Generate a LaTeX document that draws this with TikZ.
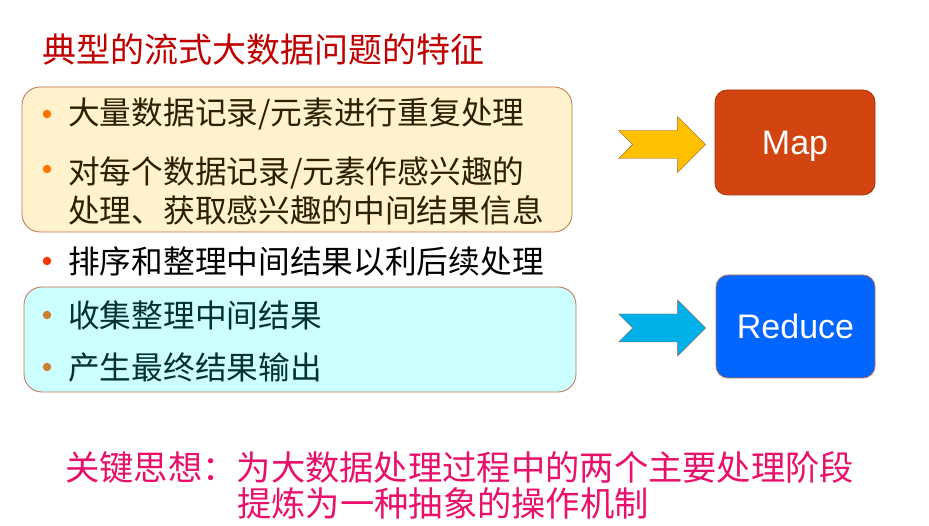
\documentclass[tikz,border=0pt]{standalone}
\usepackage{fontspec}
\setmainfont{Noto Sans CJK SC}
\newfontfamily\latinsans{Liberation Sans}
\usetikzlibrary{positioning}

\definecolor{titlered}{HTML}{C00000}
\definecolor{keypink}{HTML}{E8106A}
\definecolor{creamfill}{HTML}{FFF2CC}
\definecolor{cyanfill}{HTML}{CCFFFF}
\definecolor{boxline}{HTML}{C0704A}
\definecolor{mapfill}{HTML}{D24410}
\definecolor{reducefill}{HTML}{0066FF}
\definecolor{arrowyellow}{HTML}{FFC000}
\definecolor{arrowcyan}{HTML}{00B0E8}
\definecolor{olivetext}{HTML}{2B2100}
\definecolor{tealtext}{HTML}{003030}

\begin{document}
\begin{tikzpicture}[x=1pt, y=-1pt,
    heading/.style={anchor=west, inner sep=0pt, font=\fontsize{34}{40}\selectfont, text=titlered},
    group/.style={rectangle, draw=boxline, thick, rounded corners=18pt},
    item/.style={anchor=west, inner sep=0pt, align=left, font=\fontsize{31.7}{39}\selectfont},
    dot/.style={circle, inner sep=0pt, minimum size=8.5pt},
    stage/.style={rectangle, draw=boxline, thick, rounded corners=12pt, text=white, text depth=0pt, font=\latinsans\fontsize{34}{40}\selectfont},
    blockarrow/.style={draw=boxline!80!black, line join=miter},
    keyidea/.style={anchor=west, inner sep=0pt, font=\fontsize{34.3}{40}\selectfont, text=keypink}
]
\useasboundingbox (0,0) rectangle (929,526);

% Title
\node[heading] (title) at (42,50) {典型的流式大数据问题的特征};

% Map group - cream box
\node[group, fill=creamfill, minimum width=550pt, minimum height=145pt] (mapgroup) at (297,159.5) {};
\node[dot, fill=orange!90!red] (d1) at (47,114) {};
\node[item, text=olivetext] (t1) at (68,114) {大量数据记录/元素进行重复处理};
\node[dot, fill=orange!90!red] (d2) at (47,169) {};
\node[item, text=olivetext] (t2) at (68,191) {对每个数据记录/元素作感兴趣的\\处理、获取感兴趣的中间结果信息};

% Middle bullet
\node[dot, fill=red!60!orange] (d3) at (47,261) {};
\node[item] (t3) at (68,261) {排序和整理中间结果以利后续处理};

% Reduce group - cyan box
\node[group, fill=cyanfill, minimum width=552pt, minimum height=105pt] (reducegroup) at (300,339.5) {};
\node[dot, fill=brown!80!orange] (d4) at (47,315) {};
\node[item, text=tealtext] (t4) at (68,315.5) {收集整理中间结果};
\node[dot, fill=brown!80!orange] (d5) at (47,367) {};
\node[item, text=tealtext] (t5) at (68,367.5) {产生最终结果输出};

% Stages
\node[stage, fill=mapfill, draw=mapfill!80!black, minimum width=160pt, minimum height=105pt] (map) at (795,142.5) {Map};
\node[stage, fill=reducefill, minimum width=159pt, minimum height=103pt] (reduce) at (795.5,326.5) {Reduce};

% Block arrows
\coordinate (maptip) at ([xshift=-9pt, yshift=-2pt]map.west);
\draw[blockarrow, fill=arrowyellow] (maptip) -- ++(-28,-28) -- ++(0,14) -- ++(-59,0) -- ++(14,14)
    -- ++(-14,14) -- ++(59,0) -- ++(0,14) -- cycle;
\coordinate (reducetip) at ([xshift=-10pt, yshift=-1.5pt]reduce.west);
\draw[blockarrow, fill=arrowcyan] (reducetip) -- ++(-28,-28) -- ++(0,14) -- ++(-59,0) -- ++(14,14)
    -- ++(-14,14) -- ++(59,0) -- ++(0,14) -- cycle;

% Key idea
\node[keyidea] (key1) at (65,467) {关键思想：为大数据处理过程中的两个主要处理阶段};
\node[keyidea] (key2) at (237,503) {提炼为一种抽象的操作机制};

\end{tikzpicture}
\end{document}
